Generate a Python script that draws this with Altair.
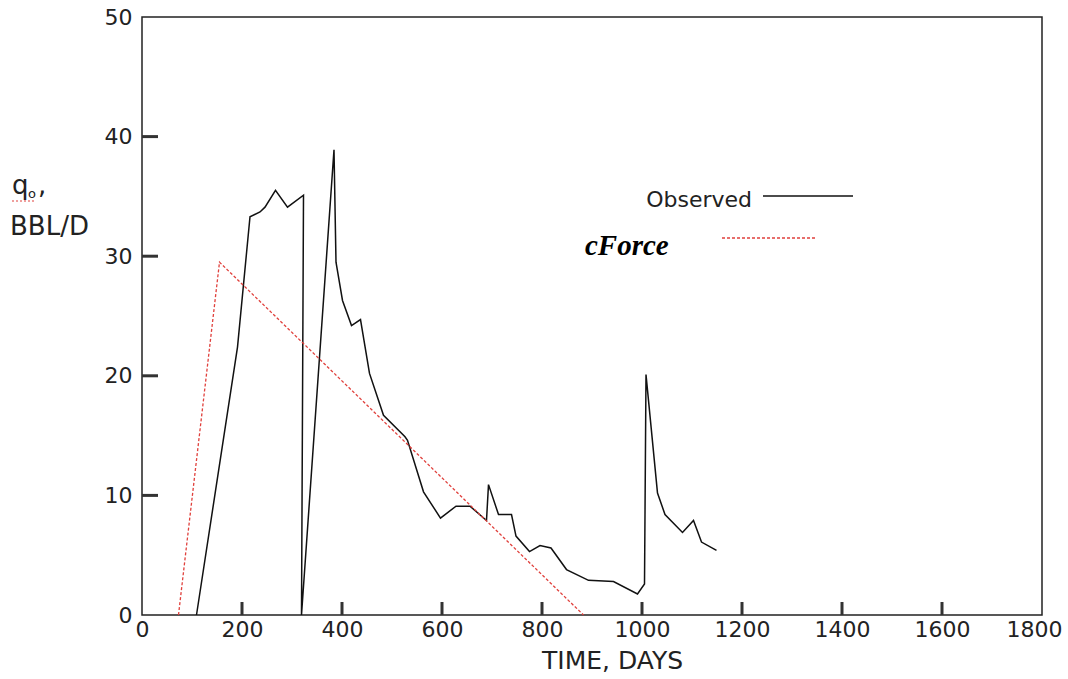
import altair as alt
import pandas as pd

# ---- data ----
obs_days = [109, 191, 216, 236, 246, 267, 291, 323, 319, 384, 388, 401, 419, 437, 455, 483,
            526, 531, 563, 597, 628, 656, 689, 693, 713, 739, 748, 775, 796, 818, 849, 893,
            943, 991, 1005, 1008, 1031, 1046, 1081, 1103, 1119, 1149]
obs_rate = [0, 22.4, 33.3, 33.7, 34.1, 35.5, 34.1, 35.1, 0, 38.9, 29.5, 26.3, 24.2, 24.7, 20.2, 16.7,
            14.9, 14.6, 10.3, 8.1, 9.1, 9.1, 7.9, 10.9, 8.4, 8.4, 6.6, 5.3, 5.8, 5.6, 3.8, 2.9,
            2.8, 1.76, 2.6, 20.1, 10.2, 8.4, 6.9, 7.9, 6.1, 5.4]
cf_days = [73, 155, 883]
cf_rate = [0, 29.5, 0]

x_tick_labels = [0, 200, 400, 600, 800, 1000, 1200, 1400, 1600, 1800]
y_tick_labels = [0, 10, 20, 30, 40, 50]
x_inner_ticks = [200, 400, 600, 800, 1000, 1200, 1400, 1600]
y_inner_ticks = [10, 20, 30, 40]
legend_labels = ["Observed", "cForce"]
x_title = "TIME, DAYS"
y_title_lines = ["q", "o", ",", "BBL/D"]

W, H = 900, 598
INK = "#222222"
TICK = "#333333"
RED = "#e0403c"
SANS = "DejaVu Sans"

obs = pd.DataFrame({"day": obs_days, "rate": obs_rate, "idx": list(range(len(obs_days)))})
cf = pd.DataFrame({"day": cf_days, "rate": cf_rate, "idx": list(range(len(cf_days)))})

x_scale = alt.Scale(domain=[0, 1800], nice=False, zero=False)
y_scale = alt.Scale(domain=[0, 50], nice=False)

x_axis = alt.Axis(values=x_tick_labels, title=x_title, grid=False, domain=False, ticks=False,
                  labelPadding=4, labelFontSize=22, labelFont=SANS, labelColor=INK,
                  labelOffset={"condition": {"test": "datum.value == 1800", "value": -8}, "value": 0},
                  labelOverlap=False, labelFlush=False, format="d",
                  titleFontSize=25, titleFont=SANS, titleFontWeight="normal", titleColor=INK,
                  titleX=470, titleY=53, titleBaseline="alphabetic", titleAlign="center")
y_axis = alt.Axis(values=y_tick_labels, title="", grid=False, domain=False, ticks=False,
                  labelPadding=10, labelFontSize=22, labelFont=SANS, labelColor=INK,
                  labelOverlap=False, labelFlush=False, format="d")

observed = alt.Chart(obs).mark_line(color="#111111", strokeWidth=1.5).encode(
    x=alt.X("day:Q", scale=x_scale, axis=x_axis),
    y=alt.Y("rate:Q", scale=y_scale, axis=y_axis),
    order="idx:Q",
)
cforce = alt.Chart(cf).mark_line(color=RED, strokeWidth=1.3, strokeDash=[3, 2]).encode(
    x=alt.X("day:Q", scale=x_scale),
    y=alt.Y("rate:Q", scale=y_scale),
    order="idx:Q",
)

# inward tick marks on the frame
xt_data = alt.Data(values=[{"v": v} for v in x_inner_ticks])
yt_data = alt.Data(values=[{"w": w} for w in y_inner_ticks])
xt = alt.Chart(xt_data).mark_rule(color=TICK, strokeWidth=3).encode(
    x=alt.X("v:Q", scale=x_scale), y=alt.value(H - 13), y2=alt.value(H))
yt = alt.Chart(yt_data).mark_rule(color=TICK, strokeWidth=3).encode(
    y=alt.Y("w:Q", scale=y_scale), x=alt.value(0), x2=alt.value(16))

one = alt.Data(values=[{"k": 0}])

leg_obs_line = alt.Chart(one).mark_rule(color="#111111", strokeWidth=1.5).encode(
    x=alt.value(621), x2=alt.value(711), y=alt.value(179))
leg_cf_line = alt.Chart(one).mark_rule(color=RED, strokeWidth=1.3, strokeDash=[3, 2]).encode(
    x=alt.value(580), x2=alt.value(673), y=alt.value(221))
leg_obs_text = alt.Chart(alt.Data(values=[{"t": legend_labels[0]}])).mark_text(
    align="right", baseline="alphabetic", fontSize=22, font=SANS, color=INK).encode(
    text="t:N", x=alt.value(610), y=alt.value(190))
leg_cf_text = alt.Chart(alt.Data(values=[{"t": legend_labels[1]}])).mark_text(
    align="left", baseline="alphabetic", fontSize=29, font="Liberation Serif",
    fontWeight="bold", fontStyle="italic", color="#000000").encode(
    text="t:N", x=alt.value(443), y=alt.value(238))

yq = alt.Chart(alt.Data(values=[{"t": y_title_lines[0]}])).mark_text(
    align="left", baseline="alphabetic", fontSize=26, font=SANS, color=INK).encode(
    text="t:N", x=alt.value(-130), y=alt.value(177))
yo = alt.Chart(alt.Data(values=[{"t": y_title_lines[1]}])).mark_text(
    align="left", baseline="alphabetic", fontSize=13, font=SANS, color=INK).encode(
    text="t:N", x=alt.value(-114), y=alt.value(181))
yc = alt.Chart(alt.Data(values=[{"t": y_title_lines[2]}])).mark_text(
    align="left", baseline="alphabetic", fontSize=26, font=SANS, color=INK).encode(
    text="t:N", x=alt.value(-104), y=alt.value(177))
yb = alt.Chart(alt.Data(values=[{"t": y_title_lines[3]}])).mark_text(
    align="left", baseline="alphabetic", fontSize=26, font=SANS, color=INK).encode(
    text="t:N", x=alt.value(-132), y=alt.value(218))
# red spell-check squiggle under "qo"
squiggle = alt.Chart(one).mark_rule(color=RED, strokeWidth=1.2, strokeDash=[2, 2]).encode(
    x=alt.value(-130), x2=alt.value(-106), y=alt.value(184))

chart = alt.layer(
    observed, cforce, xt, yt, leg_obs_line, leg_cf_line, leg_obs_text, leg_cf_text,
    yq, yo, yc, yb, squiggle,
).properties(
    width=W, height=H,
    autosize=alt.AutoSizeParams(type="none"),
    padding={"left": 142, "top": 17, "right": 26, "bottom": 64},
    background="white",
).configure_view(stroke=INK, strokeWidth=1.5)

chart.save("out.html", embed_options={"renderer": "svg", "actions": False})
